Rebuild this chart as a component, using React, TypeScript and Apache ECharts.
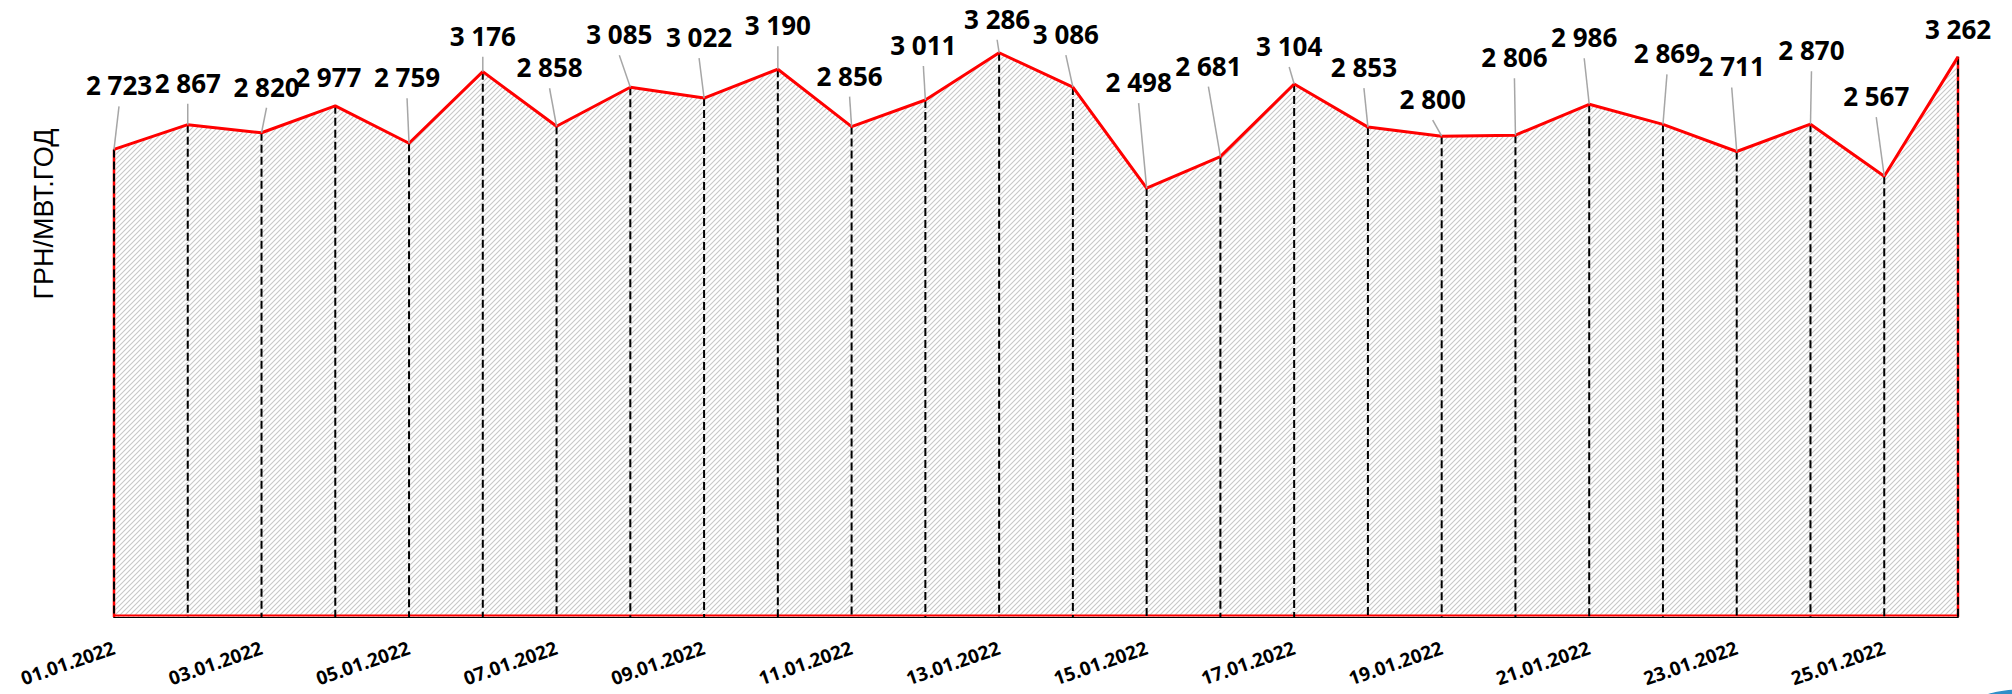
import React, { useEffect, useRef } from "react";
import * as echarts from "echarts";

const dates = [
  "01.01.2022", "02.01.2022", "03.01.2022", "04.01.2022", "05.01.2022", "06.01.2022",
  "07.01.2022", "08.01.2022", "09.01.2022", "10.01.2022", "11.01.2022", "12.01.2022",
  "13.01.2022", "14.01.2022", "15.01.2022", "16.01.2022", "17.01.2022", "18.01.2022",
  "19.01.2022", "20.01.2022", "21.01.2022", "22.01.2022", "23.01.2022", "24.01.2022",
  "25.01.2022", "26.01.2022",
];

const prices = [
  2723, 2867, 2820, 2977, 2759, 3176, 2858, 3085, 3022, 3190, 2856, 3011, 3286,
  3086, 2498, 2681, 3104, 2853, 2800, 2806, 2986, 2869, 2711, 2870, 2567, 3262,
];

const yAxisTitle = "ГРН/МВТ.ГОД";
const yMin = 0;
const yMax = 3500;

// label placement relative to each point (pixels), layout only
const labelOffsets: [number, number][] = [
  [5, -64], [0, -42], [5, -46], [-7, -29], [-2, -66], [0, -36], [-7, -59],
  [-11, -53], [-5, -61], [0, -44], [-2, -51], [-2, -55], [-2, -34], [-7, -53],
  [-8, -106], [-12, -91], [-5, -38], [-4, -60], [-9, -37], [-1, -78], [-5, -67],
  [4, -71], [-5, -85], [1, -74], [-8, -80], [0, -28],
];

function fmt(v: number): string {
  return String(v).replace(/\B(?=(\d{3})+(?!\d))/g, " ");
}

export default function App() {
  const ref = useRef<HTMLDivElement>(null);

  useEffect(() => {
    document.body.style.margin = "0";
    if (!ref.current) return;
    const chart = echarts.init(ref.current, undefined, { renderer: "svg" });

    const tile = document.createElement("canvas");
    const s = 5;
    tile.width = s;
    tile.height = s;
    const ctx = tile.getContext("2d");
    if (ctx) {
      ctx.fillStyle = "#ffffff";
      ctx.fillRect(0, 0, s, s);
      ctx.strokeStyle = "#c8c8c8";
      ctx.lineWidth = 1.1;
      ctx.beginPath();
      ctx.moveTo(0, s);
      ctx.lineTo(s, 0);
      ctx.moveTo(-1, 1);
      ctx.lineTo(1, -1);
      ctx.moveTo(s - 1, s + 1);
      ctx.lineTo(s + 1, s - 1);
      ctx.stroke();
    }

    const points = prices.map((v, i) => [i, v]);
    const axisPoints = dates.map((d, i) => [i, yMin]);
    const last = prices.length - 1;

    chart.setOption({
      animation: false,
      grid: { left: 114, right: 54, top: 16, bottom: 77 },
      xAxis: {
        type: "category",
        data: dates,
        boundaryGap: false,
        axisTick: { show: false },
        axisLine: { lineStyle: { color: "#000", width: 2 } },
        axisLabel: { show: false },
        splitLine: { show: false },
      },
      yAxis: {
        type: "value",
        min: yMin,
        max: yMax,
        show: false,
        splitLine: { show: false },
      },
      graphic: [
        {
          type: "text",
          x: 44,
          y: 214,
          rotation: Math.PI / 2,
          style: {
            text: yAxisTitle,
            fill: "#000",
            fontFamily: "Liberation Sans",
            fontSize: 27,
            align: "center",
            verticalAlign: "middle",
          },
        },
        {
          type: "ellipse",
          shape: { cx: 2030, cy: 700, rx: 50, ry: 11 },
          style: { fill: "#2f8fc8" },
        },
      ],
      series: [
        {
          type: "line",
          data: prices,
          symbol: "none",
          z: 1,
          lineStyle: { width: 0 },
          areaStyle: { color: { image: tile, repeat: "repeat" }, opacity: 1 },
        },
        {
          type: "custom",
          z: 2,
          data: points,
          encode: { x: 0, y: 1 },
          renderItem: (params: any, api: any) => {
            const i = api.value(0);
            const v = api.value(1);
            const p = api.coord([i, v]);
            const b = api.coord([i, yMin]);
            const children: any[] = [];
            if (i === 0) {
              const e = api.coord([last, yMin]);
              children.push({
                type: "line",
                shape: { x1: b[0], y1: b[1] - 1.5, x2: e[0], y2: e[1] - 1.5 },
                style: { stroke: "#ff0000", lineWidth: 2 },
              });
            }
            if (i === 0 || i === last) {
              children.push({
                type: "line",
                shape: { x1: p[0], y1: p[1], x2: b[0], y2: b[1] },
                style: { stroke: "#ff0000", lineWidth: 2.5 },
              });
            }
            children.push({
              type: "line",
              shape: { x1: p[0], y1: p[1], x2: b[0], y2: b[1] },
              style: { stroke: "#000", lineWidth: 2, lineDash: [8, 4] },
            });
            return { type: "group", children };
          },
        },
        {
          type: "line",
          data: prices,
          symbol: "none",
          z: 3,
          lineStyle: { color: "#ff0000", width: 3 },
        },
        {
          type: "custom",
          z: 4,
          data: points,
          encode: { x: 0, y: 1 },
          renderItem: (params: any, api: any) => {
            const i = api.value(0);
            const v = api.value(1);
            const p = api.coord([i, v]);
            const [dx, dy] = labelOffsets[i];
            const lx = p[0] + dx;
            const ly = p[1] + dy;
            const top = ly + 21;
            const children: any[] = [];
            if (p[1] - top > 10) {
              children.push({
                type: "line",
                shape: { x1: lx, y1: top, x2: p[0], y2: p[1] },
                style: { stroke: "#a6a6a6", lineWidth: 1.5 },
              });
            }
            children.push({
              type: "text",
              x: lx,
              y: ly,
              style: {
                text: fmt(v),
                fill: "#000",
                fontFamily: "Open Sans",
                fontWeight: "bold",
                fontSize: 26,
                align: "center",
                verticalAlign: "middle",
              },
            });
            return { type: "group", children };
          },
        },
        {
          type: "custom",
          z: 4,
          data: axisPoints,
          encode: { x: 0, y: 1 },
          renderItem: (params: any, api: any) => {
            const i = api.value(0);
            if (i % 2 !== 0) return null;
            const b = api.coord([i, yMin]);
            return {
              type: "text",
              x: b[0],
              y: b[1] + 30,
              rotation: (19 * Math.PI) / 180,
              style: {
                text: dates[i],
                fill: "#000",
                fontFamily: "Open Sans",
                fontWeight: "bold",
                fontSize: 19,
                align: "right",
                verticalAlign: "middle",
              },
            };
          },
        },
      ],
    });

    return () => chart.dispose();
  }, []);

  return <div ref={ref} style={{ width: 2012, height: 694 }} />;
}
